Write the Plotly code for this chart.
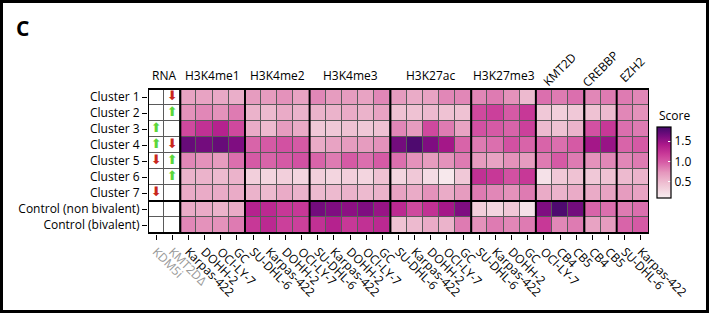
import plotly.graph_objects as go

rows = ["Cluster 1", "Cluster 2", "Cluster 3", "Cluster 4", "Cluster 5",
        "Cluster 6", "Cluster 7", "Control (non bivalent)", "Control (bivalent)"]

groups = ["RNA", "H3K4me1", "H3K4me2", "H3K4me3", "H3K27ac", "H3K27me3", "KMT2D", "CREBBP", "EZH2"]
group_cols = [
    ["KDM5i", "KMT2DΔ"],
    ["Karpas-422", "DOHH-2", "OCI-LY-7", "GC"],
    ["SU-DHL-6", "Karpas-422", "DOHH-2", "OCI-LY-7"],
    ["SU-DHL-6", "Karpas-422", "DOHH-2", "OCI-LY-7", "GC"],
    ["SU-DHL-6", "Karpas-422", "DOHH-2", "OCI-LY-7", "GC"],
    ["SU-DHL-6", "Karpas-422", "DOHH-2", "GC"],
    ["OCI-LY-7", "CB4", "CB5"],
    ["CB4", "CB5"],
    ["SU-DHL-6", "Karpas-422"],
]
rotated_groups = ["KMT2D", "CREBBP", "EZH2"]

# RNA direction per row
rna_kdm5i = [None, None, "up", "up", "down", None, "down", None, None]
rna_kmt2d = ["down", "up", None, "down", "up", "up", None, None, None]

h3k4me1 = [[0.65, 0.65, 0.62, 0.58],
           [0.75, 0.80, 0.75, 0.85],
           [1.10, 1.25, 1.35, 1.10],
           [1.70, 1.65, 1.70, 1.60],
           [0.80, 0.75, 0.70, 0.90],
           [0.55, 0.55, 0.50, 0.55],
           [0.60, 0.60, 0.60, 0.60],
           [0.60, 0.60, 0.55, 0.60],
           [0.80, 0.75, 0.75, 0.85]]
h3k4me2 = [[0.70, 0.70, 0.75, 0.65],
           [0.55, 0.50, 0.60, 0.55],
           [0.60, 0.50, 0.70, 0.60],
           [0.95, 1.00, 1.05, 1.00],
           [1.00, 0.95, 1.00, 1.05],
           [0.35, 0.30, 0.35, 0.30],
           [0.55, 0.50, 0.60, 0.55],
           [1.35, 1.30, 1.20, 1.20],
           [1.20, 1.30, 1.15, 1.15]]
h3k4me3 = [[0.80, 0.70, 0.70, 0.65, 0.80],
           [0.55, 0.55, 0.60, 0.55, 0.65],
           [0.40, 0.40, 0.45, 0.40, 0.45],
           [0.60, 0.65, 0.70, 0.70, 0.75],
           [0.95, 0.85, 1.00, 0.90, 1.00],
           [0.35, 0.30, 0.35, 0.30, 0.45],
           [0.50, 0.50, 0.55, 0.50, 0.55],
           [1.65, 1.60, 1.55, 1.60, 1.50],
           [1.25, 1.35, 1.20, 1.25, 1.30]]
h3k27ac = [[0.70, 0.60, 0.65, 0.80, 0.80],
           [0.45, 0.45, 0.50, 0.45, 0.45],
           [0.80, 0.70, 1.10, 0.85, 0.65],
           [1.65, 1.80, 1.60, 1.45, 0.95],
           [0.90, 0.75, 0.70, 0.75, 0.85],
           [0.30, 0.40, 0.25, 0.15, 0.40],
           [0.65, 0.60, 0.75, 0.60, 0.70],
           [1.30, 1.10, 1.25, 1.45, 1.60],
           [0.45, 0.50, 0.60, 0.55, 0.85]]
h3k27me3 = [[0.80, 0.85, 0.75, 0.50],
            [1.10, 1.15, 1.00, 1.20],
            [1.05, 1.00, 0.95, 1.15],
            [0.85, 0.90, 1.05, 0.95],
            [0.70, 0.65, 0.75, 0.70],
            [1.25, 1.20, 1.05, 1.20],
            [0.85, 0.80, 0.75, 0.85],
            [0.35, 0.30, 0.40, 0.20],
            [0.75, 0.85, 0.80, 0.85]]
kmt2d = [[0.90, 0.85, 0.90],
         [0.40, 0.35, 0.40],
         [0.50, 0.45, 0.55],
         [0.95, 0.90, 1.00],
         [0.85, 1.00, 0.85],
         [0.20, 0.40, 0.45],
         [0.60, 0.55, 0.60],
         [1.60, 1.80, 1.65],
         [1.20, 0.80, 0.85]]
crebbp = [[0.80, 0.85],
          [0.45, 0.50],
          [1.05, 1.20],
          [1.45, 1.50],
          [0.75, 0.80],
          [0.40, 0.45],
          [0.60, 0.65],
          [0.95, 0.90],
          [0.65, 0.70]]
ezh2 = [[0.85, 0.80],
        [0.80, 0.75],
        [0.90, 0.85],
        [0.95, 1.00],
        [0.80, 0.85],
        [0.50, 0.55],
        [0.70, 0.65],
        [0.85, 0.90],
        [0.95, 1.00]]

score_blocks = [h3k4me1, h3k4me2, h3k4me3, h3k27ac, h3k27me3, kmt2d, crebbp, ezh2]
colorbar_ticks = [0.5, 1.0, 1.5]

# ---------- build figure ----------
FONT = "Open Sans"
FS = 12
n_rna = len(group_cols[0])
col_labels = [c for g in group_cols for c in g]
ncol = len(col_labels)
xs = list(range(ncol))

z = []
for r in range(len(rows)):
    rowvals = [None] * n_rna
    for blk in score_blocks:
        rowvals += blk[r]
    z.append(rowvals)

z_rna = [[0] * n_rna + [None] * (ncol - n_rna) for _ in rows]

colorscale = [
    [0.0, "#f8eef0"],
    [0.2, "#efc2d3"],
    [0.36, "#e597bd"],
    [0.5, "#d75ea7"],
    [0.62, "#c93a98"],
    [0.75, "#ad198a"],
    [0.87, "#7a0c80"],
    [1.0, "#42096a"],
]

W, H = 709, 313
ml, mr, mt, mb = 148, 60, 88, 79
pw, ph = W - ml - mr, H - mt - mb

fig = go.Figure()
fig.add_trace(go.Heatmap(
    z=z_rna, x=xs, y=rows, colorscale=[[0, "white"], [1, "white"]],
    showscale=False, xgap=1, ygap=1, hoverinfo="skip"))
fig.add_trace(go.Heatmap(
    z=z, x=xs, y=rows, colorscale=colorscale, zmin=0.1, zmax=1.85,
    xgap=1, ygap=1,
    colorbar=dict(
        x=(657 - ml) / pw, xanchor="left", xpad=0,
        y=1 - ((127 + 198) / 2 - mt) / ph, yanchor="middle", ypad=0,
        len=71 / ph, lenmode="fraction", thickness=14,
        outlinewidth=1.2, outlinecolor="black",
        tickvals=colorbar_ticks, ticktext=[f"{v:.1f}" for v in colorbar_ticks],
        ticks="inside", tickcolor="white", ticklen=3, tickwidth=1,
        tickfont=dict(size=FS, family=FONT, color="black"),
    )))

# RNA arrows
arrow_char = {"up": "⬆", "down": "⬇"}
arrow_color = {"up": "#5cd63a", "down": "#c9271c"}
for ci, dirs in enumerate([rna_kdm5i, rna_kmt2d]):
    ax, ay, at, ac = [], [], [], []
    for r, d in enumerate(dirs):
        if d:
            ax.append(ci); ay.append(rows[r]); at.append(arrow_char[d]); ac.append(arrow_color[d])
    fig.add_trace(go.Scatter(x=ax, y=ay, mode="text", text=at,
                             textfont=dict(color=ac, size=13, family="DejaVu Sans"),
                             showlegend=False, hoverinfo="skip"))

# thick group borders
shapes = []
nrow = len(rows)
bounds = [0]
for g in group_cols:
    bounds.append(bounds[-1] + len(g))
for b in bounds:
    shapes.append(dict(type="line", xref="x", yref="y", x0=b - 0.5, x1=b - 0.5,
                       y0=-0.5, y1=nrow - 0.5, line=dict(color="black", width=2)))
for yb in [-0.5, 6.5, nrow - 0.5]:
    shapes.append(dict(type="line", xref="x", yref="y", x0=-0.5, x1=ncol - 0.5,
                       y0=yb, y1=yb, line=dict(color="black", width=2)))

# page frame
shapes.append(dict(type="rect", xref="paper", yref="paper",
                   x0=(1.5 - ml) / pw, x1=(W - 1.5 - ml) / pw,
                   y0=-(mb - 1.5) / ph, y1=1 + (mt - 1.5) / ph,
                   line=dict(color="black", width=3)))

annotations = []
for gi, g in enumerate(groups):
    center = (bounds[gi] + bounds[gi + 1] - 1) / 2
    if g in rotated_groups:
        annotations.append(dict(x=center, y=1, xref="x", yref="paper", text=g,
                                showarrow=False, textangle=-45, xanchor="center",
                                yanchor="middle", yshift=19, xshift=-1,
                                font=dict(size=FS, family=FONT, color="black")))
    else:
        annotations.append(dict(x=center, y=1, xref="x", yref="paper", text=g,
                                showarrow=False, xanchor="center", yanchor="middle",
                                yshift=13, font=dict(size=FS, family=FONT, color="black")))
annotations.append(dict(x=(657 - ml) / pw, y=1 - (115 - mt) / ph, xref="paper", yref="paper",
                        text="Score", showarrow=False, xanchor="left", yanchor="middle",
                        font=dict(size=FS, family=FONT, color="black")))
annotations.append(dict(x=(22 - ml) / pw, y=1 + (mt - 28) / ph, xref="paper", yref="paper",
                        text="<b>C</b>", showarrow=False, xanchor="center", yanchor="middle",
                        font=dict(size=21, family=FONT, color="black")))

ticktext = [f"<span style='color:#999999'>{c}</span>" if i < n_rna else c
            for i, c in enumerate(col_labels)]

fig.update_layout(
    template="none",
    width=W, height=H, margin=dict(l=ml, r=mr, t=mt, b=mb, autoexpand=False),
    paper_bgcolor="white", plot_bgcolor="#5a5a5a",
    font=dict(family=FONT, size=FS, color="black"),
    showlegend=False, shapes=shapes, annotations=annotations,
    xaxis=dict(range=[-0.5, ncol - 0.5], tickvals=xs, ticktext=ticktext, tickangle=45,
               ticks="outside", ticklen=5, tickcolor="black", showgrid=False,
               zeroline=False, showline=False, automargin=False,
               tickfont=dict(size=FS, family=FONT)),
    yaxis=dict(autorange="reversed", ticks="outside", ticklen=5, tickcolor="black",
               showgrid=False, zeroline=False, showline=False, automargin=False,
               tickfont=dict(size=FS, family=FONT)),
)

fig.write_html("out.html", config={"displayModeBar": False},
               post_script="document.body.style.margin='0px';document.body.style.overflow='hidden';")
